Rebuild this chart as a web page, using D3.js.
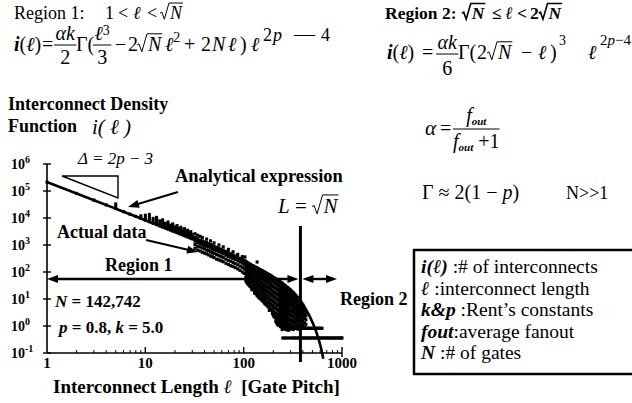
<!DOCTYPE html>
<html><head><meta charset="utf-8">
<script src="https://cdn.jsdelivr.net/npm/d3@7"></script>
<style>
html,body{margin:0;padding:0;background:#fff;}
svg{display:block;}
text{font-family:"Liberation Serif","Times New Roman",serif;fill:#000;white-space:pre;}
</style></head><body>
<svg id="chart" width="632" height="403"></svg>
<script>
// ---------- chart values ----------
const gateCount = 142742;          // N
const rentP = 0.8, rentK = 5.0;    // Rent's constants
const yTickExponents = [-1, 0, 1, 2, 3, 4, 5, 6];
const xTickValues = [1, 10, 100, 1000];
const xTickLabels = ["1", "10", "100", "1000"];

// analytical density i(l), sampled along the curve
const analyticLengths = [1, 2, 3, 5, 7, 10, 15, 20, 30, 50, 70, 100, 150, 200, 250, 300, 350, 377.8, 420, 480, 540, 570, 600, 615, 630, 645];
const analyticCounts  = [213500, 80700, 45630, 22200, 13790, 8300, 4640, 3060, 1690, 779, 458, 253, 121, 66.5, 38.7, 22.7, 12.7, 8.79, 4.78, 1.92, 0.694, 0.389, 0.2025, 0.140, 0.0946, 0.0611];

// measured interconnect counts: [length, counts at that length]
const shortWires = [
  [1, [213000]], [2, [81000]], [3, [46000]], [4, [30500]],
  [5, [22500, 27000, 33000]], [6, [17200]], [7, [13800]], [8, [11500]],
  [9, [9700, 12000]], [10, [8400, 10200, 12600]], [11, [7300, 9000, 11200, 13500]],
  [12, [6400, 7800, 9600]], [13, [5700, 7000, 8700, 10500]], [14, [5100, 6300, 7800]],
  [15, [4650, 5700, 7000, 8500]], [16, [4250, 5200, 6300]], [17, [3900, 4800, 5900, 7100]],
  [18, [3600, 4400, 5400]], [19, [3300, 4100, 5000, 6000]], [20, [3100, 3800, 4600]],
  [21, [2900, 3500, 4300, 5200]], [22, [2700, 3300, 4000]], [23, [2500, 3100, 3700, 4500]],
  [24, [2400, 2900, 3500]], [25, [2250, 2750, 3300, 4000]], [26, [2100, 2600, 3100]],
  [27, [2000, 2450, 2900, 3500]], [28, [1900, 2300, 2750]], [29, [1800, 2200, 2600, 3100]],
  [30, [1700, 2050, 2400]]
];
const midWires = [
  [32, [760, 1050, 1400, 1900, 2600]], [34, [650, 900, 1250, 1700, 2300]],
  [36, [600, 850, 1150, 1500, 2100]], [38, [540, 780, 1050, 1420, 1900]],
  [40, [500, 720, 960, 1300]], [42, [470, 650, 900, 1220, 1650]],
  [44, [430, 610, 840, 1120]], [46, [390, 560, 770, 1040, 1420]],
  [48, [370, 520, 720, 980]], [50, [340, 490, 660, 900, 1200]],
  [53, [300, 440, 610, 820]], [56, [280, 400, 560, 750, 1000]],
  [59, [260, 370, 510, 690]], [62, [240, 340, 470, 640, 850]],
  [66, [210, 300, 420, 580]], [70, [190, 270, 380, 520, 690]],
  [74, [170, 250, 350, 470]], [78, [160, 225, 320, 430, 560]],
  [82, [145, 205, 290, 390]], [87, [130, 185, 260, 350, 450]],
  [92, [115, 165, 235, 320]], [97, [100, 150, 215, 290, 370]],
  [101, [90, 135, 195, 265]], [103, [360]], [137, [234]]
];
const longWires = [
  [105, [250, 196, 150, 121, 88, 64, 47]], [107, [230, 180, 138, 104, 80, 58, 43]],
  [109, [212, 170, 131, 97, 77, 55, 38]], [111, [215, 158, 124, 92, 68, 50, 36]],
  [113, [205, 143, 118, 86, 61, 44, 33]], [115, [196, 148, 110, 82, 60, 42, 31]],
  [117, [188, 152, 104, 79, 58, 40, 29]], [119, [180, 136, 100, 74, 55, 39, 28]],
  [121, [174, 127, 96, 70, 53, 36, 27, 22]], [123, [170, 124, 93, 66, 48, 35, 25]],
  [125, [166, 118, 91, 63, 45, 34, 24]], [129, [150, 121, 84, 58, 43, 30, 21, 17]],
  [131, [152, 114, 82, 60, 42, 31, 22, 16]], [134, [145, 104, 76, 55, 37, 27, 19]],
  [136, [140, 102, 74, 52, 38, 26, 18, 14]], [139, [136, 99, 70, 49, 35, 25, 17, 13]],
  [141, [130, 95, 68, 48, 33, 23, 16, 12]], [144, [122, 90, 67, 45, 31, 22, 15, 11]],
  [147, [118, 87, 62, 43, 30, 21, 14.5, 10.5]], [150, [114, 84, 59, 41, 29, 20, 14, 10]],
  [153, [110, 80, 57, 39, 27, 19, 13, 9]], [156, [104, 77, 55, 37, 26, 18, 12, 8.5]],
  [159, [101, 74, 52, 36, 25, 17, 11.5, 8]], [162, [97, 70, 49, 34, 23, 16, 10.5, 7.2]],
  [165, [94, 68, 48, 33, 22, 15, 10, 6.8]], [168, [91, 63, 46, 30, 21, 14, 9.4, 6.3]],
  [171, [87, 62, 44, 30, 20, 13, 8.8, 6]], [175, [83, 59, 41, 28, 18.5, 12.4, 8.1, 5.5]],
  [178, [80, 57, 40, 27, 17.5, 11.7, 7.7, 5.2]], [182, [76, 53, 37, 25, 16.5, 11, 7.3, 4.8, 3.8]],
  [185, [74, 52, 36, 24, 15.6, 10.3, 6.9, 4.5]], [189, [71, 49, 33, 22.5, 14.8, 9.6, 6.4, 4.2]],
  [192, [68, 48, 32, 21, 14, 9.2, 6, 4]], [196, [63, 45, 30, 20, 13.4, 8.6, 5.7, 3.7, 2.9]],
  [200, [61, 43, 29, 19, 12.6, 8.2, 5.3, 3.5, 2.5]], [204, [58, 41, 27, 18, 11.8, 7.7, 5, 3.2, 2.2]],
  [208, [56, 39, 26, 17, 11.2, 7.3, 4.8, 3.1, 2.1]], [212, [53, 37, 25, 16, 10.6, 6.9, 4.5, 2.9, 2, 1.5]],
  [216, [51, 35.5, 23.5, 15.3, 10, 6.5, 4.3, 2.8, 1.85, 1.3]], [220, [48, 34, 22.5, 14.6, 9.5, 6.1, 4, 2.6, 1.7, 1.2]],
  [224, [46, 32, 21, 13.9, 9, 5.9, 3.8, 2.5, 1.6, 1.1]], [228, [44, 30.5, 20, 13.2, 8.6, 5.6, 3.6, 2.3, 1.5, 1.05]],
  [232, [36, 24, 16, 10.2, 6.6, 4.3, 2.9, 1.9, 1.25]], [237, [40, 27.5, 18.2, 12, 7.8, 5, 3.3, 2.1, 1.4, 0.95]],
  [241, [33, 22, 14.5, 9.4, 6.1, 4, 2.6, 1.7, 1.1]], [246, [36, 25, 16.4, 10.8, 7, 4.5, 3, 1.95, 1.3, 0.9, 0.74]],
  [251, [30, 20, 13.2, 8.6, 5.6, 3.6, 2.4, 1.55, 1]], [255, [32.5, 22.5, 14.8, 9.8, 6.4, 4.1, 2.7, 1.75, 1.15, 0.82]],
  [260, [27, 18, 12, 7.9, 5.1, 3.3, 2.2, 1.4, 0.9]], [265, [29.5, 20.3, 13.4, 8.9, 5.8, 3.7, 2.45, 1.6, 1.05, 0.76]],
  [270, [24.5, 16.4, 11, 7.2, 4.7, 3.05, 2, 1.3, 0.85]], [275, [26.5, 18.3, 12.1, 8, 5.2, 3.4, 2.2, 1.45, 0.95, 0.72]],
  [280, [22, 15, 10, 6.6, 4.3, 2.8, 1.85, 1.2, 0.8]], [286, [23.5, 16.4, 10.9, 7.2, 4.7, 3.1, 2, 1.3, 0.88, 0.7]],
  [291, [19.8, 13.6, 9.1, 6, 3.9, 2.6, 1.7, 1.1, 0.76]], [297, [21, 14.7, 9.8, 6.5, 4.2, 2.8, 1.8, 1.2, 0.82]],
  [302, [17.8, 12.3, 8.3, 5.5, 3.6, 2.4, 1.55, 1.02]], [308, [18.6, 13, 8.8, 5.8, 3.8, 2.5, 1.65, 1.1, 0.78]],
  [314, [15.6, 11, 7.5, 5, 3.3, 2.2, 1.45, 0.95]], [320, [16.3, 11.5, 7.8, 5.2, 3.4, 2.25, 1.5, 1, 0.74]],
  [326, [13.6, 9.7, 6.6, 4.4, 2.9, 1.95, 1.3, 0.86]], [332, [14.2, 10.1, 6.9, 4.6, 3.05, 2, 1.35, 0.9]],
  [339, [11.5, 8.3, 5.7, 3.9, 2.6, 1.75, 1.15]], [345, [12.2, 8.8, 6, 4.1, 2.7, 1.8, 1.2, 0.82]],
  [352, [9.6, 7, 4.9, 3.4, 2.3, 1.55, 1.02]], [358, [10.4, 7.5, 5.2, 3.6, 2.4, 1.6, 1.1, 0.76]],
  [365, [8, 5.9, 4.2, 2.9, 2, 1.3]], [372, [8.7, 6.4, 4.5, 3.1, 2.1, 1.4, 0.95]],
  [379, [6.6, 4.9, 3.5, 2.5, 1.7, 1.1]], [386, [7.2, 5.3, 3.8, 2.7, 1.8, 1.2, 0.85]],
  [400, [5.9, 4.4, 3.2, 2.3, 1.55, 1.05]], [415, [4.7, 3.6, 2.6, 1.9, 1.3, 0.9]],
  [430, [3.2, 2.4, 1.7, 1.15]]
];
// long-wire tail rows
const unitRowCount = 0.82;
const unitRowLengths = [252, 268, 284, 300, 312, 322, 332, 342, 352, 362, 373, 384, 395, 407, 419, 431, 444, 457, 470, 484, 498, 513, 528, 543, 559, 575, 592, 609, 627];
const lowRowCount = 0.36;
const lowRowLengths = [250, 262, 275, 290, 305, 320, 332, 345, 358, 372, 386, 401, 416, 432, 448, 465, 483, 501, 520, 540, 560, 581, 603, 626, 650, 675, 700, 727, 754, 783, 812, 843, 875, 908, 943, 979, 1000];

// ---------- helpers ----------
const svg = d3.select("#chart");
const INK = "#000";

function put(g, x, y, s, o = {}) {
  const t = g.append("text").attr("x", x).attr("y", y)
    .attr("font-size", o.fs || 18)
    .attr("font-style", o.it ? "italic" : null)
    .attr("font-weight", o.b ? "bold" : null)
    .text(s);
  if (o.anchor) t.attr("text-anchor", o.anchor);
  return t;
}
// lays out a run of math pieces left to right; returns the end x
function row(g, x, y, parts) {
  for (const p of parts) {
    if (p.at !== undefined) x = p.at;
    x += p.dx || 0;
    if (p.frac) {
      const gn = g.append("g"), gd = g.append("g");
      const wn = row(gn, 0, 0, p.num), wd = row(gd, 0, 0, p.den);
      const W = Math.max(wn, wd) + (p.pad === undefined ? 1.5 : p.pad) * 2;
      gn.attr("transform", `translate(${x + (W - wn) / 2},${y + p.numDy})`);
      gd.attr("transform", `translate(${x + (W - wd) / 2},${y + p.denDy})`);
      g.append("line").attr("x1", x).attr("x2", x + W)
        .attr("y1", y + p.barDy).attr("y2", y + p.barDy)
        .attr("stroke", INK).attr("stroke-width", p.bw || 1);
      x += W;
    } else if (p.sqrt) {
      const fs = p.fs, rw = fs * 0.5;
      const gi = g.append("g");
      const wi = row(gi, 0, 0, p.sqrt);
      gi.attr("transform", `translate(${x + rw + 1},${y})`);
      const top = y - fs * 0.86;
      g.append("path")
        .attr("d", `M${x},${y - fs * 0.3} L${x + fs * 0.1},${y - fs * 0.36} L${x + fs * 0.24},${y + fs * 0.04} L${x + rw},${top} L${x + rw + wi + 2},${top}`)
        .attr("fill", "none").attr("stroke", INK).attr("stroke-width", p.sw || 1);
      x += rw + wi + 3;
    } else {
      const t = put(g, x, y + (p.dy || 0), p.t, p);
      x += t.node().getComputedTextLength();
    }
  }
  return x;
}
function arrowHead(g, x, y, ang, len = 11, wid = 8) {
  const c = Math.cos(ang), s = Math.sin(ang);
  const bx = x - c * len, by = y - s * len;
  g.append("path")
    .attr("d", `M${x},${y} L${bx - s * wid / 2},${by + c * wid / 2} L${bx + s * wid / 2},${by - c * wid / 2} Z`)
    .attr("fill", INK);
}
function arrow(g, x1, y1, x2, y2, sw, both) {
  const ang = Math.atan2(y2 - y1, x2 - x1);
  const sx = both ? x1 + Math.cos(ang) * 6 : x1, sy = both ? y1 + Math.sin(ang) * 6 : y1;
  g.append("line").attr("x1", sx).attr("y1", sy).attr("x2", x2 - Math.cos(ang) * 6).attr("y2", y2 - Math.sin(ang) * 6)
    .attr("stroke", INK).attr("stroke-width", sw);
  arrowHead(g, x2, y2, ang);
  if (both) arrowHead(g, x1, y1, ang + Math.PI);
}

// ---------- scales ----------
const x = d3.scaleLog().domain([1, 1000]).range([47, 342]);
const y = d3.scaleLog().domain([0.1, 1e6]).range([353, 164]);

// ---------- axes ----------
const ax = svg.append("g");
ax.append("line").attr("x1", x(1)).attr("x2", x(1)).attr("y1", y(1e6)).attr("y2", y(0.1))
  .attr("stroke", INK).attr("stroke-width", 1.6);
ax.append("line").attr("x1", x(1)).attr("x2", x(1000)).attr("y1", y(0.1)).attr("y2", y(0.1))
  .attr("stroke", INK).attr("stroke-width", 1.6);
yTickExponents.forEach(e => {
  const yy = y(Math.pow(10, e));
  ax.append("line").attr("x1", x(1) - 4).attr("x2", x(1) + 4).attr("y1", yy).attr("y2", yy)
    .attr("stroke", INK).attr("stroke-width", 1.4);
  const t = ax.append("text").attr("x", 11).attr("y", yy + 5).attr("font-size", 14).attr("font-weight", "bold");
  t.append("tspan").text("10");
  t.append("tspan").attr("dy", -6).attr("font-size", 10).text(String(e));
});
x.ticks().forEach(v => {
  if (v === 1) return;
  const major = xTickValues.includes(v);
  const xx = x(v);
  ax.append("line").attr("x1", xx).attr("x2", xx)
    .attr("y1", y(0.1) - (major ? 6 : 3)).attr("y2", y(0.1) + (v === 1000 ? 4 : 0))
    .attr("stroke", INK).attr("stroke-width", major ? 1.4 : 1);
});
xTickValues.forEach((v, i) => {
  put(ax, x(v), 368, xTickLabels[i], { fs: 15, b: true, anchor: "middle" });
});
row(ax, 53, 393, [
  { t: "Interconnect Length ", fs: 19, b: true },
  { t: "ℓ", fs: 19, b: true, it: true },
  { t: "  [Gate Pitch]", fs: 19, b: true }
]);

// ---------- measured data ----------
const pts = [];
[shortWires, midWires, longWires].forEach(set => set.forEach(([l, vs]) => vs.forEach(v => pts.push([l, v]))));
unitRowLengths.forEach(l => pts.push([l, unitRowCount]));
lowRowLengths.forEach(l => pts.push([l, lowRowCount]));
svg.append("g").selectAll("rect").data(pts).join("rect")
  .attr("x", d => x(d[0]) - 1.5).attr("y", d => y(d[1]) - 1.6)
  .attr("width", 3).attr("height", 3.2).attr("fill", INK);

// ---------- analytical curve ----------
const curve = d3.line().x(d => x(d[0])).y(d => y(d[1])).curve(d3.curveMonotoneX);
svg.append("path").datum(analyticLengths.map((l, i) => [l, analyticCounts[i]]))
  .attr("d", curve).attr("fill", "none").attr("stroke", INK).attr("stroke-width", 2.6);

// ---------- annotations in the plot ----------
const an = svg.append("g");
const rootN = Math.sqrt(gateCount);
an.append("line").attr("x1", x(rootN)).attr("x2", x(rootN)).attr("y1", 226).attr("y2", 362)
  .attr("stroke", INK).attr("stroke-width", 3);
const ry = y(55);
arrow(an, x(1), ry, x(rootN) - 2, ry, 2.4, true);
arrow(an, x(rootN) + 2, ry, x(890), ry, 2.4, true);
put(an, 105, 271, "Region 1", { fs: 18, b: true });
put(an, 340, 305, "Region 2", { fs: 18, b: true });
an.append("path").attr("d", "M62,176 L118,176 L118,198 Z").attr("fill", "none")
  .attr("stroke", INK).attr("stroke-width", 1.4);
put(an, 78, 164, "Δ = 2p − 3", { fs: 17, it: true });
put(an, 175, 182, "Analytical expression", { fs: 18.4, b: true });
arrow(an, 178, 192, 128, 207, 2);
put(an, 57, 238, "Actual data", { fs: 18, b: true });
arrow(an, 146, 240, 198, 252, 2);
row(an, 278, 213, [
  { t: "L", fs: 21, it: true }, { t: " = ", fs: 21 },
  { sqrt: [{ t: "N", fs: 21, it: true }], fs: 21 }
]);
row(an, 55, 307, [{ t: "N", fs: 17, b: true, it: true }, { t: " = 142,742", fs: 17, b: true }]);
row(an, 59, 333, [
  { t: "p", fs: 17, b: true, it: true }, { t: " = 0.8, ", fs: 17, b: true },
  { t: "k", fs: 17, b: true, it: true }, { t: " = 5.0", fs: 17, b: true }
]);

// ---------- headings and formulas ----------
const tx = svg.append("g");
put(tx, 8, 110, "Interconnect Density", { fs: 18, b: true });
put(tx, 8, 132, "Function", { fs: 18, b: true });
put(tx, 92, 134, "i( ℓ )", { fs: 21, it: true });

put(tx, 14, 18.5, "Region 1:", { fs: 18 });
row(tx, 105, 18.5, [
  { t: "1", fs: 18 }, { t: "<", fs: 18, at: 118 }, { t: "ℓ", fs: 18, it: true, at: 133 },
  { t: "<", fs: 18, at: 147 },
  { sqrt: [{ t: "N", fs: 18, it: true }], fs: 18, at: 160 }
]);
row(tx, 14, 51, [
  { t: "i", fs: 20, it: true, b: true }, { t: "(", fs: 20 }, { t: "ℓ", fs: 20, it: true }, { t: ")", fs: 20 },
  { t: "=", fs: 20, at: 42 },
  { frac: true, at: 54, num: [{ t: "αk", fs: 20, it: true }], den: [{ t: "2", fs: 20 }], numDy: -11, denDy: 13, barDy: -6 },
  { t: "Γ(", fs: 20, at: 76 },
  { frac: true, at: 93, num: [{ t: "ℓ", fs: 20, it: true }, { t: "3", fs: 14, dy: -5 }], den: [{ t: "3", fs: 20 }], numDy: -11, denDy: 13, barDy: -6 },
  { t: "−", fs: 20, at: 115 }, { t: "2", fs: 20, at: 128 },
  { sqrt: [{ t: "N", fs: 20, it: true }], fs: 20, at: 137 },
  { t: "ℓ", fs: 20, it: true, at: 165 }, { t: "2", fs: 14, dy: -9 },
  { t: "+", fs: 20, at: 184 }, { t: "2", fs: 20, at: 201 }, { t: "N", fs: 20, it: true, at: 212 },
  { t: "ℓ", fs: 20, it: true, at: 228 }, { t: ")", fs: 20, at: 240 },
  { t: "ℓ", fs: 20, it: true, at: 251 },
  { t: "2", fs: 18, dy: -10, at: 263 }, { t: "p", fs: 18, it: true, dy: -10, dx: 1 }, { t: "—", fs: 21, dy: -10, at: 294 },
  { t: "4", fs: 18, dy: -10, at: 321 }
]);

put(tx, 385, 18.5, "Region 2:", { fs: 17.5, b: true });
row(tx, 462, 18.5, [
  { sqrt: [{ t: "N", fs: 17.5, it: true, b: true }], fs: 17.5, sw: 1.6 },
  { t: "≤", fs: 17.5, b: true, at: 492 }, { t: "ℓ", fs: 17.5, it: true, at: 505 },
  { t: "<", fs: 17.5, b: true, at: 517 }, { t: "2", fs: 17.5, b: true, at: 530 },
  { sqrt: [{ t: "N", fs: 17.5, it: true, b: true }], fs: 17.5, sw: 1.6 }
]);
row(tx, 387, 59, [
  { t: "i", fs: 20, it: true, b: true }, { t: "(", fs: 20 }, { t: "ℓ", fs: 20, it: true }, { t: ")", fs: 20 },
  { t: "=", fs: 20, at: 422 },
  { frac: true, at: 436, num: [{ t: "αk", fs: 20, it: true }], den: [{ t: "6", fs: 20 }], numDy: -10, denDy: 16, barDy: -5 },
  { t: "Γ(", fs: 20, at: 458 }, { t: "2", fs: 20, at: 477 },
  { sqrt: [{ t: "N", fs: 20, it: true }], fs: 20, at: 487 },
  { t: "−", fs: 20, at: 521 }, { t: "ℓ", fs: 20, it: true, at: 538 }, { t: ")", fs: 20, at: 550 }, { t: "3", fs: 14, dy: -14, at: 559 },
  { t: "ℓ", fs: 20, it: true, at: 588 }, { t: "2", fs: 15, dy: -14, at: 600 }, { t: "p", fs: 15, it: true, dy: -14 }, { t: "−4", fs: 15, dy: -14 }
]);

// fanout factor and Gamma
row(tx, 425, 135, [
  { t: "α", fs: 21, it: true }, { t: "=", fs: 20, at: 440 },
  { frac: true, at: 453, pad: 0,
    num: [{ t: "f", fs: 20, it: true }, { t: "out", fs: 11, it: true, b: true, dy: 3 }],
    den: [{ t: "f", fs: 20, it: true }, { t: "out", fs: 11, it: true, b: true, dy: 3 }, { t: " +1", fs: 20 }],
    numDy: -13, denDy: 13, barDy: -6 }
]);
row(tx, 422, 199, [
  { t: "Γ ≈ 2(1 − ", fs: 20 }, { t: "p", fs: 20, it: true }, { t: ")", fs: 20 }
]);
put(tx, 566, 199, "N>>1", { fs: 18 });

// ---------- symbol legend ----------
const lg = svg.append("g");
lg.append("path").attr("d", "M640,250 L414,250 L414,374 L640,374").attr("fill", "none")
  .attr("stroke", INK).attr("stroke-width", 2.5);
const legendRows = [
  [["i(ℓ)", true], [" :# of interconnects", false]],
  [["ℓ", true], [" :interconnect length", false]],
  [["k&p", true], [" :Rent’s constants", false]],
  [["fout", true], [":average fanout", false]],
  [["N", true], [" :# of gates", false]]
];
legendRows.forEach((r, i) => {
  row(lg, 421, 273 + i * 21.5, r.map(([t, sym]) => sym ? { t, fs: 19.5, b: true, it: true } : { t, fs: 19.5 }));
});
</script>
</body></html>
